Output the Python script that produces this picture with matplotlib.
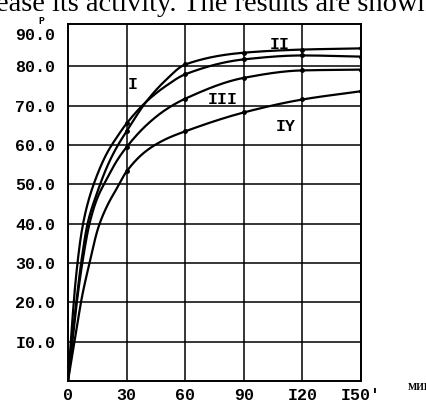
import numpy as np
import matplotlib
matplotlib.use("Agg")
import matplotlib.pyplot as plt
from matplotlib.transforms import ScaledTranslation

# time, min
t_I = [0, 2, 4, 7, 10, 15, 20, 25, 30, 40, 50, 60, 90, 120, 150]
p_I = [0, 14, 26, 38, 45, 52.5, 58, 62, 65.5, 71, 75, 78, 81.8, 82.8, 82.5]

t_II = [0, 2, 4, 7, 10, 15, 20, 25, 30, 40, 50, 60, 90, 120, 150]
p_II = [0, 10, 19, 31, 40, 48, 54.5, 59.5, 63.5, 71, 76.5, 80.5, 83.5, 84.3, 84.6]

t_III = [0, 2, 4, 7, 11, 15, 20, 25, 30, 40, 50, 60, 90, 120, 150]
p_III = [0, 9, 18, 29, 40, 46.5, 51.5, 56, 59.5, 65, 69, 71.8, 77.1, 79, 79.2]

t_IY = [0, 2, 4, 7, 11, 15.5, 20, 25, 30, 40, 50, 60, 90, 120, 150]
p_IY = [0, 6, 12, 21, 30, 39, 44.5, 49, 53.3, 58.5, 61.5, 63.5, 68.3, 71.6, 73.7]

marked_t = [30, 60, 90, 120, 150]

x_ticks = [0, 30, 60, 90, 120, 150]
x_labels = ["0", "30", "60", "90", "I20", "I50'"]
y_ticks = [10, 20, 30, 40, 50, 60, 70, 80, 90]
y_labels = ["I0.0", "20.0", "30.0", "40.0", "50.0", "60.0", "70.0", "80.0", "90.0"]

curve_names = ["I", "II", "III", "IY"]
# where the roman numerals sit (t, P)
name_pos = [(33.3, 75.4), (108.5, 85.6), (79.4, 71.6), (111.6, 64.7)]


def pchip(x, y, xs):
    # monotone cubic so the drawn curves stay smooth without overshoot
    x = np.asarray(x, float)
    y = np.asarray(y, float)
    h = np.diff(x)
    d = np.diff(y) / h
    m = np.zeros_like(y)
    m[0], m[-1] = d[0], d[-1]
    for k in range(1, len(x) - 1):
        if d[k - 1] * d[k] <= 0:
            m[k] = 0
        else:
            w1 = 2 * h[k] + h[k - 1]
            w2 = h[k] + 2 * h[k - 1]
            m[k] = (w1 + w2) / (w1 / d[k - 1] + w2 / d[k])
    idx = np.clip(np.searchsorted(x, xs) - 1, 0, len(x) - 2)
    s = (xs - x[idx]) / h[idx]
    h00 = 2 * s**3 - 3 * s**2 + 1
    h10 = s**3 - 2 * s**2 + s
    h01 = -2 * s**3 + 3 * s**2
    h11 = s**3 - s**2
    return h00 * y[idx] + h10 * h[idx] * m[idx] + h01 * y[idx + 1] + h11 * h[idx] * m[idx + 1]


fig = plt.figure(figsize=(4.27, 4.03), dpi=100)
ax = fig.add_axes([68 / 427, 22 / 403, 293 / 427, 357 / 403])

tick_font = dict(family="Liberation Mono", weight="bold", size=12)

for t, p in [(t_I, p_I), (t_II, p_II), (t_III, p_III), (t_IY, p_IY)]:
    ts = np.linspace(0, 150, 800)
    ax.plot(ts, pchip(t, p, ts), color="black", lw=1.6, solid_capstyle="round")
    mt = [a for a in t if a in marked_t]
    mp = [b for a, b in zip(t, p) if a in marked_t]
    ax.plot(mt, mp, "o", color="black", ms=2.5)

for name, (tx, py) in zip(curve_names, name_pos):
    ax.text(tx, py, name, ha="center", va="center", **tick_font)

ax.set_xlim(0, 150)
ax.set_ylim(0, 90.8)
ax.set_xticks(x_ticks)
ax.set_xticklabels(x_labels, fontdict=tick_font)
ax.set_yticks(y_ticks)
ax.set_yticklabels(y_labels, fontdict=tick_font)
ax.tick_params(length=0)
ax.tick_params(axis="y", pad=9)
ax.tick_params(axis="x", pad=5)
ax.grid(True, color="black", lw=1.1)
ax.get_ygridlines()[-1].set_visible(False)
for sp in ax.spines.values():
    sp.set_linewidth(1.4)

# the top label sits a little lower in the scan
top_lbl = ax.get_yticklabels()[-1]
top_lbl.set_transform(top_lbl.get_transform() + ScaledTranslation(0, -5 / 72, fig.dpi_scale_trans))

fig.text(41 / 427, 1 - 21 / 403, "P", ha="center", va="center",
         family="Liberation Mono", weight="bold", size=7)
fig.text(408 / 427, 1 - 388 / 403, "МИН", ha="left", va="center",
         family="Liberation Serif", weight="bold", size=7)
fig.text(-4 / 427, 1 - 11 / 403, "ease its activity. The results are shown",
         ha="left", va="baseline", family="Liberation Serif", size=20.5)

fig.savefig("out.png", dpi=100)
